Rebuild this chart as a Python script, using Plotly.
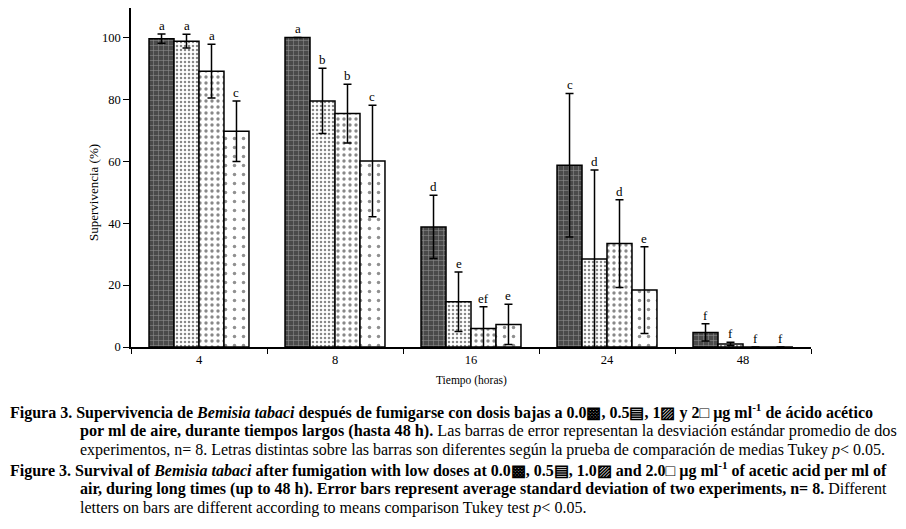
import plotly.graph_objects as go

tiempos = ["4", "8", "16", "24", "48"]
dosis = ["0.0", "0.5", "1.0", "2.0"]
surv_00 = [99.6, 100.0, 38.8, 58.7, 4.7]
surv_05 = [98.8, 79.5, 14.6, 28.4, 1.0]
surv_10 = [89.1, 75.4, 6.0, 33.4, 0.0]
surv_20 = [69.7, 60.1, 7.3, 18.4, 0.0]
err_00 = [1.5, 0.0, 10.2, 23.2, 2.8]
err_05 = [2.2, 10.5, 9.6, 28.8, 0.5]
err_10 = [8.7, 9.5, 7.0, 14.2, 0.0]
err_20 = [9.8, 18.0, 6.5, 14.0, 0.0]
let_00 = ["a", "a", "d", "c", "f"]
let_05 = ["a", "b", "e", "d", "f"]
let_10 = ["a", "b", "ef", "d", "f"]
let_20 = ["c", "c", "e", "e", "f"]

series = [
    (surv_00, err_00, let_00, dict(shape="+", fgcolor="#d8d8d8", bgcolor="#4a4a4a", size=5, solidity=0.2)),
    (surv_05, err_05, let_05, dict(shape=".", fgcolor="#111", bgcolor="white", size=4, solidity=0.3)),
    (surv_10, err_10, let_10, dict(shape=".", fgcolor="#111", bgcolor="white", size=6, solidity=0.25)),
    (surv_20, err_20, let_20, dict(shape=".", fgcolor="#222", bgcolor="white", size=9, solidity=0.12)),
]

OFF = 8  # page body offset
W, H = 906, 529
ML, MR, MT, MB = 123, 103, 0, 190
PW, PH = W - ML - MR, H - MT - MB
BARGAP = 0.265

fig = go.Figure()
annotations = []
bw = (1 - BARGAP) / len(series)
for j, (vals, errs, lets, pat) in enumerate(series):
    fig.add_trace(go.Bar(
        x=tiempos, y=vals, name=dosis[j],
        marker=dict(color=pat["bgcolor"], line=dict(color="black", width=1.5), pattern=pat),
        error_y=dict(type="data", array=errs, visible=True, color="black", thickness=1.5, width=4),
        showlegend=False,
    ))
    for i, (v, e, l) in enumerate(zip(vals, errs, lets)):
        annotations.append(dict(
            x=i + (j - 1.5) * bw, y=v + e, xref="x", yref="y", text=l, showarrow=False,
            yanchor="bottom", yshift=-1, font=dict(family="Liberation Serif", size=13, color="black"),
        ))

def px_x(px):
    return (px - OFF - ML) / PW

def px_y(py):
    return (H - MB - (py - OFF)) / PH

cap_font = dict(family="Liberation Serif", size=16, color="black")
cap_font2 = dict(family="Liberation Serif", size=16.2, color="black")
cap_lines = [
    (8, 411, "<b>Figura 3. Supervivencia de <i>Bemisia tabaci</i> después de fumigarse con dosis bajas a 0.0▩, 0.5▤, 1▨ y 2□ µg ml<sup>-1</sup> de ácido acético</b>", cap_font),
    (78, 431, "<b>por ml de aire, durante tiempos largos (hasta 48 h).</b> Las barras de error representan la desviación estándar promedio de dos", cap_font2),
    (78, 450, "experimentos, n= 8. Letras distintas sobre las barras son diferentes según la prueba de comparación de medias Tukey <i>p</i>< 0.05.", cap_font),
    (8, 470, "<b>Figure 3. Survival of <i>Bemisia tabaci</i> after fumigation with low doses at 0.0▩, 0.5▤, 1.0▨ and 2.0□ µg ml<sup>-1</sup> of acetic acid per ml of</b>", cap_font),
    (78, 489, "<b>air, during long times (up to 48 h). Error bars represent average standard deviation of two experiments, n= 8.</b> Different", cap_font),
    (78, 508, "letters on bars are different according to means comparison Tukey test <i>p</i>< 0.05.", cap_font),
]
for px, py, t, f in cap_lines:
    annotations.append(dict(x=px_x(px), y=px_y(py), xref="paper", yref="paper", text=t,
                            showarrow=False, xanchor="left", yanchor="middle", align="left", font=f))

annotations.append(dict(x=px_x(471), y=px_y(380), xref="paper", yref="paper", text="Tiempo (horas)",
                        showarrow=False, xanchor="center", yanchor="middle",
                        font=dict(family="Liberation Serif", size=11.5, color="black")))
annotations.append(dict(x=px_x(93), y=px_y(193), xref="paper", yref="paper", text="Supervivencia (%)",
                        showarrow=False, textangle=-90, xanchor="center", yanchor="middle",
                        font=dict(family="Liberation Serif", size=13, color="black")))

fig.update_layout(
    width=W, height=H, margin=dict(l=ML, r=MR, t=MT, b=MB),
    paper_bgcolor="white", plot_bgcolor="white",
    barmode="group", bargap=BARGAP, bargroupgap=0,
    annotations=annotations,
    font=dict(family="Liberation Serif", color="black"),
)
fig.update_xaxes(type="category", range=[-0.5, 4.5], showline=True, linecolor="black", linewidth=1.5,
                 ticks="outside", tickson="boundaries", ticklen=5, tickcolor="black", tickwidth=1.2,
                 showgrid=False, zeroline=False, tickfont=dict(family="Liberation Serif", size=12.5, color="black"))
fig.update_yaxes(range=[0, 109.5], showline=True, linecolor="black", linewidth=1.5,
                 ticks="outside", ticklen=6, tickcolor="black", tickwidth=1.2, tickvals=[0, 20, 40, 60, 80, 100],
                 showgrid=False, zeroline=False, tickfont=dict(family="Liberation Serif", size=12.5, color="black"))

fig.write_html("out.html")
